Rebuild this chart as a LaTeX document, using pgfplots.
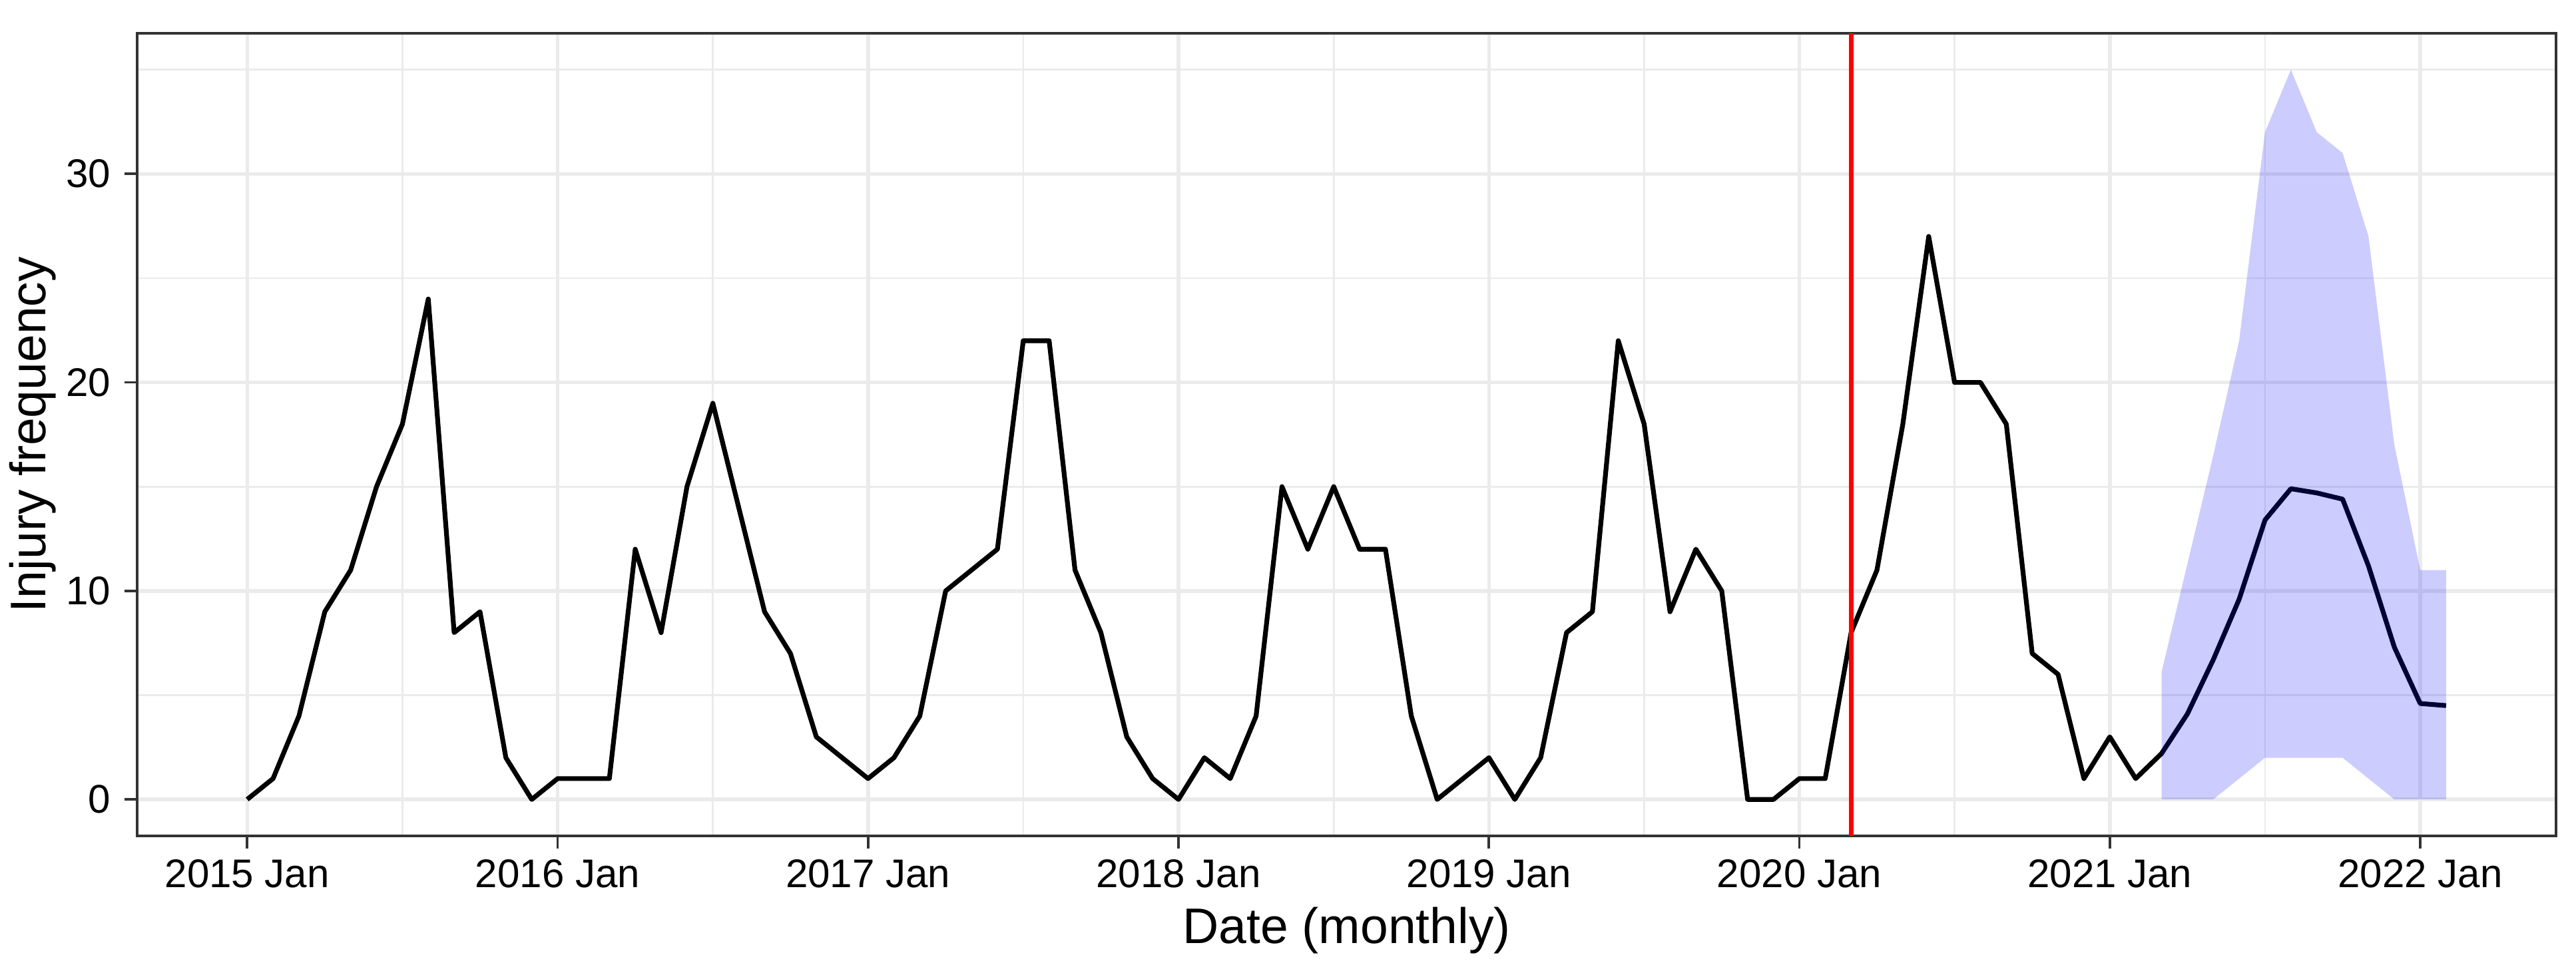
\documentclass[border=0pt]{standalone}
\usepackage{pgfplots}
\pgfplotsset{compat=1.18}
\usepackage{fontspec}
\setmainfont{Liberation Sans}
\usetikzlibrary{calc}
\definecolor{gray92}{HTML}{EBEBEB}
\definecolor{gray20}{HTML}{333333}
\begin{document}
\begin{tikzpicture}
\begin{axis}[
  scale only axis,
  width=532.2pt, height=176.7pt,
  xmin=-4.25, xmax=89.25,
  ymin=-1.75, ymax=36.75,
  xtick={0,12,24,36,48,60,72,84},
  xticklabels={2015 Jan,2016 Jan,2017 Jan,2018 Jan,2019 Jan,2020 Jan,2021 Jan,2022 Jan},
  minor xtick={6,18,30,42,54,66,78},
  ytick={0,10,20,30},
  minor ytick={5,15,25,35},
  grid=both,
  major grid style={draw=gray92, line width=0.8pt},
  minor grid style={draw=gray92, line width=0.4pt},
  axis line style={draw=gray20, line width=0.55pt},
  tick pos=left,
  tick align=outside,
  major tick length=2.75pt,
  minor tick length=0pt,
  every tick/.style={draw=gray20, line width=0.55pt},
  /pgf/number format/assume math mode=true,
  xticklabel style={font=\fontsize{8.8}{10}\selectfont, anchor=base, inner sep=0pt, yshift=-8.55pt},
  yticklabel style={font=\fontsize{8.8}{10}\selectfont, anchor=east, inner sep=0pt, xshift=-2.95pt},
  xlabel={Date (monthly)},
  ylabel={Injury frequency},
  xlabel style={font=\fontsize{11}{13}\selectfont, at={(axis description cs:0.5,-0.1341)}, anchor=base, inner sep=0pt},
  ylabel style={font=\fontsize{11}{13}\selectfont, at={(axis description cs:-0.038,0.5)}, anchor=base, inner sep=0pt},
]
\addplot[black, line width=1.05pt, line join=round] coordinates {
(0,0) (1,1) (2,4) (3,9) (4,11) (5,15) (6,18) (7,24) (8,8) (9,9) (10,2) (11,0)
(12,1) (13,1) (14,1) (15,12) (16,8) (17,15) (18,19) (19,14) (20,9) (21,7) (22,3) (23,2)
(24,1) (25,2) (26,4) (27,10) (28,11) (29,12) (30,22) (31,22) (32,11) (33,8) (34,3) (35,1)
(36,0) (37,2) (38,1) (39,4) (40,15) (41,12) (42,15) (43,12) (44,12) (45,4) (46,0) (47,1)
(48,2) (49,0) (50,2) (51,8) (52,9) (53,22) (54,18) (55,9) (56,12) (57,10) (58,0) (59,0)
(60,1) (61,1) (62,8) (63,11) (64,18) (65,27) (66,20) (67,20) (68,18) (69,7) (70,6) (71,1)
(72,3) (73,1)
(74,2.2) (75,4.1) (76,6.7) (77,9.6) (78,13.4) (79,14.9) (80,14.7) (81,14.4) (82,11.2) (83,7.3) (84,4.6) (85,4.5)
};
\addplot[draw=none, fill=blue, fill opacity=0.2] coordinates {
(74,6.1) (75,11.3) (76,16.5) (77,22) (78,32) (79,35) (80,32) (81,31) (82,27) (83,17) (84,11) (85,11)
(85,0) (84,0) (83,0) (82,1) (81,2) (80,2) (79,2) (78,2) (77,1) (76,0) (75,0) (74,0)
};
\addplot[red, line width=1.05pt] coordinates {(62,-1.75) (62,36.75)};
\end{axis}
\path (current axis.south west) ++(-30.2pt,-30.6pt) coordinate (BBA);
\path (current axis.north east) ++(4.4pt,7.3pt) coordinate (BBB);
\pgfresetboundingbox
\useasboundingbox (BBA) rectangle (BBB);
\end{tikzpicture}
\end{document}
